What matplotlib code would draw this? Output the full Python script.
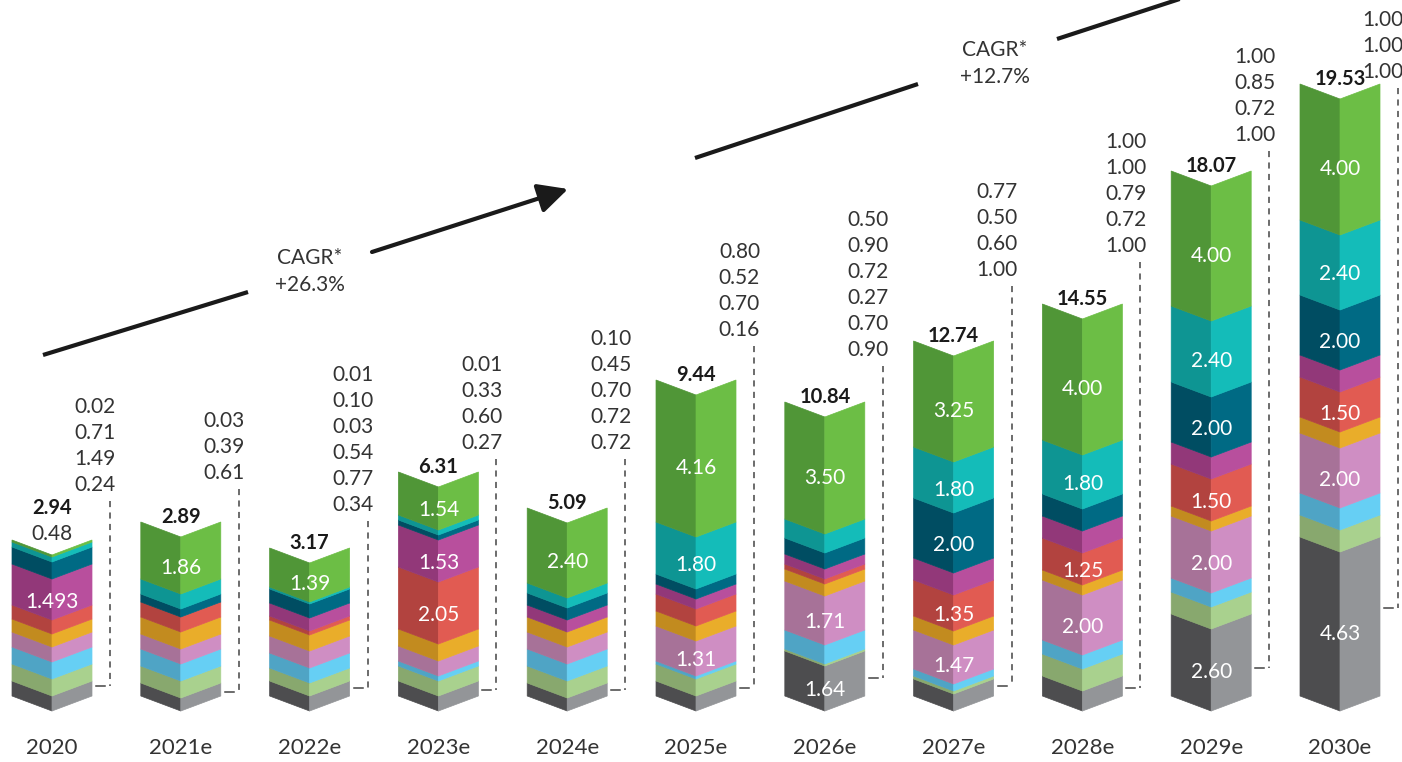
import matplotlib.pyplot as plt
import numpy as np

plt.rcParams['font.family'] = ['Lato', 'DejaVu Sans']

# years and total values printed above each bar
years = ["2020", "2021e", "2022e", "2023e", "2024e", "2025e",
         "2026e", "2027e", "2028e", "2029e", "2030e"]
totals = ["2.94", "2.89", "3.17", "6.31", "5.09", "9.44",
          "10.84", "12.74", "14.55", "18.07", "19.53"]

# drawn segment heights (bottom -> top), one list per layer
gray        = [15, 13, 15, 15, 13, 15, 45, 17, 20, 82, 159]
light_green = [17, 17, 13, 15, 17, 17, 2, 3, 22, 22, 22]
light_blue  = [17, 17, 15, 5, 17, 3, 19, 7, 14, 14, 22]
pink        = [15, 15, 17, 15, 17, 35, 49, 39, 60, 62, 60]
orange      = [13, 17, 16, 17, 15, 15, 12, 14, 10, 10, 16]
red         = [14, 15, 4, 62, 0, 17, 5, 36, 32, 42, 40]
magenta     = [41, 0, 13, 42, 12, 10, 10, 22, 22, 22, 22]
dark_teal   = [17, 8, 14, 5, 12, 10, 16, 60, 22, 60, 60]
teal        = [5, 15, 2, 5, 10, 52, 19, 51, 54, 76, 75]
green       = [2, 57, 39, 43, 75, 142, 117, 106, 136, 135, 136]

layers = [gray, light_green, light_blue, pink, orange, red,
          magenta, dark_teal, teal, green]
left_cols = ['#4d4d4f', '#88a86e', '#4fa4c5', '#a77298', '#c28b1f',
             '#b2433f', '#923879', '#004d62', '#0e9593', '#509637']
right_cols = ['#939598', '#a9d18e', '#66cff4', '#cf8ec3', '#e9ad2a',
              '#e15b52', '#b84f9d', '#006a84', '#14bcb9', '#6cbe45']

# white labels inside segments: (layer index, text)
inner = [
    [(6, "1.493")],
    [(9, "1.86")],
    [(9, "1.39")],
    [(9, "1.54"), (6, "1.53"), (5, "2.05")],
    [(9, "2.40")],
    [(9, "4.16"), (8, "1.80"), (3, "1.31")],
    [(9, "3.50"), (3, "1.71"), (0, "1.64")],
    [(9, "3.25"), (8, "1.80"), (7, "2.00"), (5, "1.35"), (3, "1.47")],
    [(9, "4.00"), (8, "1.80"), (5, "1.25"), (3, "2.00")],
    [(9, "4.00"), (8, "2.40"), (7, "2.00"), (5, "1.50"), (3, "2.00"), (0, "2.60")],
    [(9, "4.00"), (8, "2.40"), (7, "2.00"), (5, "1.50"), (3, "2.00"), (0, "4.63")],
]

# side columns of numbers next to each bar
side = [
    ["0.02", "0.71", "1.49", "0.24"],
    ["0.03", "0.39", "0.61"],
    ["0.01", "0.10", "0.03", "0.54", "0.77", "0.34"],
    ["0.01", "0.33", "0.60", "0.27"],
    ["0.10", "0.45", "0.70", "0.72", "0.72"],
    ["0.80", "0.52", "0.70", "0.16"],
    ["0.50", "0.90", "0.72", "0.27", "0.70", "0.90"],
    ["0.77", "0.50", "0.60", "1.00"],
    ["1.00", "1.00", "0.79", "0.72", "1.00"],
    ["1.00", "0.85", "0.72", "1.00"],
    ["1.00", "1.00", "1.00"],
]
# pixel rows: last side label, bottom of dashed guide
side_last_row = [485, 473, 505, 443, 443, 330, 350, 270, 246, 135, 72]
dash_bottom_row = [686, 692, 688, 690, 690, 688, 678, 686, 688, 668, 608]

STEP = 128.8
X0 = 52
BASE = 696


def P(xp, yp):
    return (xp - X0) / STEP, BASE - yp


fig = plt.figure(figsize=(14.02, 7.62), dpi=100)
ax = fig.add_axes([0, 0, 1, 1])
ax.set_xlim(-X0 / STEP, (1402 - X0) / STEP)
ax.set_ylim(BASE - 762, BASE)
ax.axis('off')

HW = 40 / STEP
DIP = 15

for i in range(len(years)):
    xl, xc, xr = i - HW, i, i + HW
    b = 0
    mids = {}
    for k, h in enumerate(layers):
        v = h[i]
        if v <= 0:
            continue
        t = b + v
        ax.fill([xl, xc, xc, xl], [b, b - DIP, t - DIP, t],
                color=left_cols[k], ec=left_cols[k], lw=0.5)
        ax.fill([xc, xr, xr, xc], [b - DIP, b, t, t - DIP],
                color=right_cols[k], ec=right_cols[k], lw=0.5)
        mids[k] = (b + t) / 2 - DIP - 2
        b = t
    top = b

    for k, txt in inner[i]:
        ax.text(i, mids[k], txt, color='white', ha='center', va='center',
                fontsize=15)

    if i == 0:
        ax.text(i, top + 6, "0.48", ha='center', va='center',
                fontsize=15, color='#333333')
        ax.text(i, top + 32, totals[i], ha='center', va='center',
                fontsize=14.5, fontweight='bold', color='#1a1a1a')
    else:
        ax.text(i, top + 5, totals[i], ha='center', va='center',
                fontsize=14.5, fontweight='bold', color='#1a1a1a')

    # side numbers + dashed guide
    for j, s in enumerate(reversed(side[i])):
        ax.text(i + 64 / STEP, BASE - (side_last_row[i] - 26 * j), s,
                ha='right', va='center', fontsize=15, color='#333333')
    dx = i + 58 / STEP
    ax.plot([dx, dx], [BASE - (side_last_row[i] + 16), BASE - dash_bottom_row[i]],
            color='#444444', lw=1.1, ls=(0, (4, 3.5)))
    ax.plot([dx - 14 / STEP, dx - 5 / STEP],
            [BASE - dash_bottom_row[i]] * 2, color='#444444', lw=1.1)

    ax.text(i, BASE - 748, years[i], ha='center', va='center',
            fontsize=16, color='#333333')

# CAGR arrows
arrow_col = '#1a1a1a'
ax.plot(*zip(P(43, 355), P(248, 292)), color=arrow_col, lw=3, solid_capstyle='butt')
ax.annotate('', xy=P(568, 189), xytext=P(372, 252),
            arrowprops=dict(arrowstyle='-|>,head_length=0.9,head_width=0.45',
                            lw=3, color=arrow_col, mutation_scale=20,
                            shrinkA=0, shrinkB=0))
ax.text(*P(310, 258), "CAGR*", ha='center', va='center', fontsize=15, color='#333333')
ax.text(*P(310, 285), "+26.3%", ha='center', va='center', fontsize=15, color='#333333')

ax.plot(*zip(P(695, 158), P(918, 84)), color=arrow_col, lw=3, solid_capstyle='butt')
ax.plot(*zip(P(1057, 39), P(1195, -6)), color=arrow_col, lw=3, solid_capstyle='butt')
ax.text(*P(995, 50), "CAGR*", ha='center', va='center', fontsize=15, color='#333333')
ax.text(*P(995, 77), "+12.7%", ha='center', va='center', fontsize=15, color='#333333')

fig.savefig("out.png", dpi=100)
